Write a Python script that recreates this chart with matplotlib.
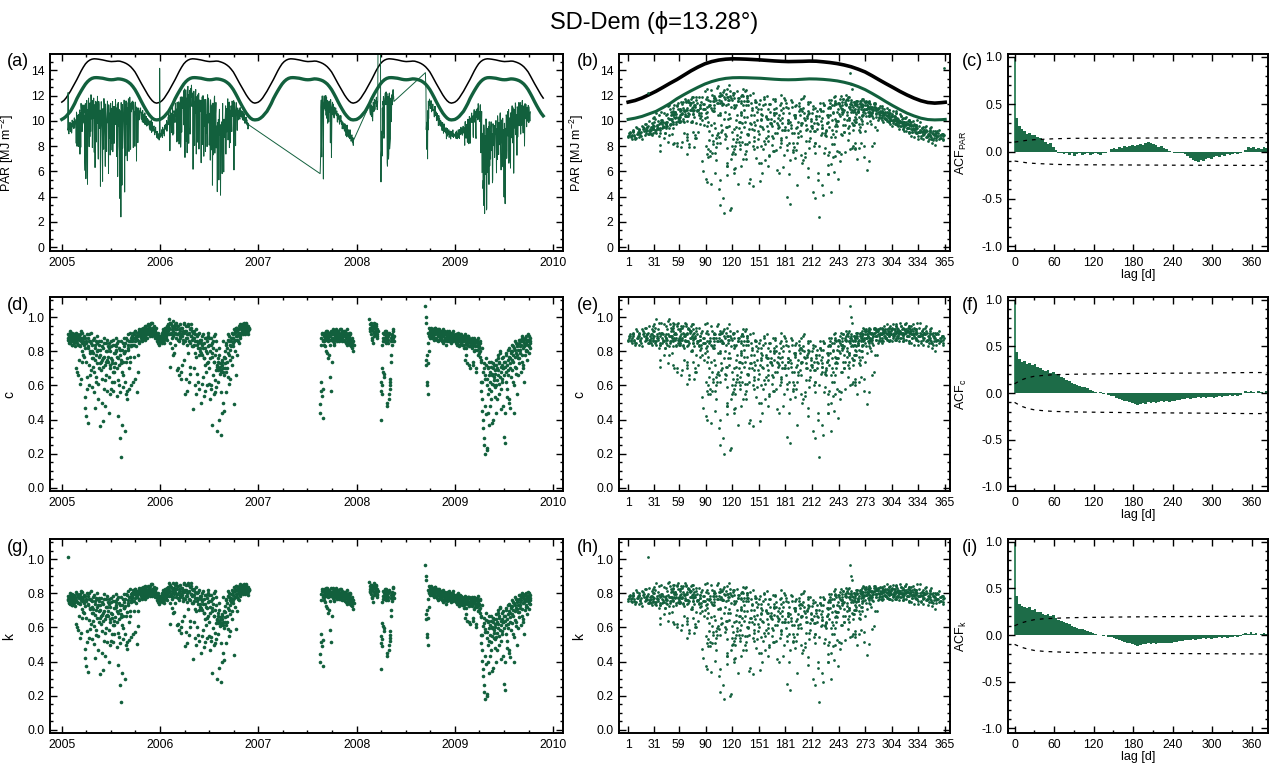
import numpy as np
import matplotlib
matplotlib.use('Agg')
import matplotlib.pyplot as plt
from matplotlib.ticker import MultipleLocator, FixedLocator, FormatStrFormatter

plt.rcParams['font.family'] = ['Liberation Sans', 'DejaVu Sans']
plt.rcParams['mathtext.fontset'] = 'custom'
plt.rcParams['mathtext.rm'] = 'Liberation Sans'
plt.rcParams['mathtext.it'] = 'Liberation Sans:italic'

GREEN = '#12603d'
BAR_GREEN = '#1d6c48'

# clear-sky curves, sampled every 8 days of the year
CURVE_DOY = [1, 9, 17, 25, 33, 41, 49, 57, 65, 73, 81, 89, 97, 105, 113, 121,
             129, 137, 145, 153, 161, 169, 177, 185, 193, 201, 209, 217, 225,
             233, 241, 249, 257, 265, 273, 281, 289, 297, 305, 313, 321, 329,
             337, 345, 353, 361, 365]
PAR_TOA = [11.49, 11.62, 11.82, 12.08, 12.35, 12.66, 12.98, 13.28, 13.62, 13.96,
           14.26, 14.52, 14.70, 14.82, 14.89, 14.92, 14.91, 14.89, 14.86, 14.83,
           14.79, 14.75, 14.72, 14.70, 14.71, 14.72, 14.74, 14.73, 14.68, 14.62,
           14.54, 14.43, 14.29, 14.10, 13.88, 13.58, 13.26, 12.95, 12.65, 12.34,
           12.06, 11.81, 11.60, 11.46, 11.41, 11.45, 11.48]
PAR_CLEAR = [10.12, 10.22, 10.36, 10.56, 10.76, 11.06, 11.38, 11.76, 12.08, 12.38,
             12.66, 12.92, 13.12, 13.27, 13.37, 13.42, 13.43, 13.42, 13.40, 13.38,
             13.34, 13.30, 13.27, 13.26, 13.27, 13.30, 13.33, 13.32, 13.29, 13.24,
             13.17, 13.06, 12.92, 12.72, 12.48, 12.18, 11.86, 11.52, 11.20, 10.90,
             10.62, 10.40, 10.22, 10.11, 10.08, 10.10, 10.12]

# clearness c [%]; each list holds every second day from its first day of year,
# the *_B lists the days in between
C_2005 = [88, 116, 86, 90, 87, 85, 89, 91, 84, 88, 86, 90, 87, 83, 89,
          87, 70, 90, 85, 88, 66, 84, 89, 61, 86, 92, 80, 74, 88, 85,
          84, 77, 53, 88, 42, 86, 65, 38, 82, 90, 60, 79, 86, 69, 85,
          80, 59, 87, 76, 68, 84, 47, 78, 62, 85, 73, 81, 52, 86, 70,
          78, 36, 74, 83, 64, 39, 76, 58, 85, 72, 48, 80, 66, 75, 87,
          74, 44, 82, 70, 55, 86, 76, 62, 73, 57, 84, 71, 68, 79, 88,
          83, 54, 77, 42, 86, 72, 60, 29, 81, 18, 75, 37, 85, 66, 79,
          88, 33, 80, 55, 74, 87, 52, 82, 90, 58, 77, 86, 60, 84, 89,
          86, 91, 62, 88, 84, 64, 92, 89, 56, 87, 90, 78, 93, 85, 91,
          90, 92, 88, 93, 86, 91, 94, 89, 87, 92, 90, 95, 88, 93, 91,
          92, 94, 90, 96, 91, 93, 89, 97, 92, 90, 94, 91, 88, 93, 90,
          89, 86, 91, 85, 88, 84, 140]
C_2005_B = [90, 87, 85, 89, 92, 86, 88, 84, 91, 87, 89, 85, 90, 86, 88,
            86, 91, 68, 84, 89, 87, 75, 90, 83, 64, 88, 85, 91, 78, 86,
            89, 82, 47, 85, 74, 90, 58, 83, 88, 72, 86, 66, 80, 91, 76,
            84, 71, 79, 88, 56, 82, 75, 86, 65, 80, 89, 61, 77, 84, 73,
            81, 69, 86, 75, 50, 82, 71, 88, 77, 63, 85, 74, 57, 80, 83,
            77, 85, 65, 80, 72, 58, 83, 75, 87, 68, 79, 62, 84, 73, 81,
            80, 70, 85, 63, 76, 82, 56, 78, 73, 86, 68, 81, 59, 74, 83,
            79, 85, 62, 88, 76, 57, 84, 81, 70, 86, 91, 74, 88, 83, 87,
            89, 84, 90, 77, 86, 92, 88, 83, 91, 87, 68, 89, 92, 86, 90,
            93, 89, 91, 87, 94, 90, 88, 92, 95, 89, 91, 93, 90, 96, 92,
            95, 91, 93, 89, 92, 97, 94, 90, 93, 91, 95, 89, 92, 94, 91,
            88, 90, 87, 86, 89, 85]
C_2006 = [86, 89, 88, 90, 85, 92, 89, 87, 93, 91, 94, 88, 95, 90, 92,
          96, 99, 93, 71, 97, 90, 82, 95, 98, 89, 79, 94, 91, 96, 88,
          93, 69, 90, 95, 86, 66, 92, 88, 64, 94, 72, 89, 91, 85, 96,
          97, 55, 88, 92, 84, 57, 95, 90, 62, 86, 93, 71, 89, 96, 83,
          91, 46, 84, 88, 60, 79, 93, 55, 86, 67, 90, 82, 58, 87, 80,
          85, 50, 78, 89, 65, 82, 54, 76, 88, 57, 80, 73, 60, 91, 83,
          88, 61, 76, 52, 84, 60, 79, 37, 86, 55, 74, 90, 63, 81, 59,
          72, 33, 69, 76, 40, 82, 71, 31, 68, 74, 44, 86, 70, 45, 66,
          73, 80, 56, 84, 70, 87, 65, 78, 89, 75, 64, 83, 86, 72, 88,
          90, 85, 49, 92, 87, 66, 94, 89, 78, 93, 86, 91, 95, 88, 90,
          94, 92, 96, 90, 95, 93, 97, 91, 94, 96, 92, 95, 93, 90, 94,
          93]
C_2006_B = [89, 87, 91, 86, 93, 88, 90, 85, 92, 94, 89, 91, 87, 93, 95,
            94, 90, 97, 85, 91, 96, 88, 93, 78, 92, 95, 90, 84, 97, 93,
            90, 95, 87, 70, 93, 91, 89, 96, 68, 90, 94, 87, 92, 75, 91,
            92, 86, 95, 64, 90, 88, 96, 79, 91, 85, 67, 94, 89, 92, 87,
            88, 83, 92, 70, 86, 90, 77, 84, 89, 62, 85, 91, 78, 86, 82,
            87, 79, 84, 61, 90, 76, 85, 72, 82, 88, 68, 79, 86, 74, 89,
            84, 70, 80, 88, 58, 77, 85, 66, 82, 74, 89, 56, 78, 86, 69,
            71, 74, 62, 70, 78, 67, 73, 56, 69, 75, 72, 50, 68, 77, 70,
            76, 85, 68, 82, 74, 90, 79, 86, 61, 84, 81, 88, 77, 91, 83,
            88, 93, 86, 91, 80, 89, 94, 87, 92, 90, 85, 93, 89, 96, 91,
            95, 93, 91, 96, 94, 92, 95, 90, 93, 97, 94, 91, 95, 92, 93]
C_2007 = [44, 57, 88, 54, 91, 86, 41, 89, 84, 90, 87, 80, 92, 88, 76,
          89, 78, 91, 87, 65, 90, 57, 88, 92, 86, 90, 84, 91, 89, 93,
          88, 91, 86, 92, 90, 89, 87, 93, 90, 88, 92, 86, 91, 89, 90,
          87, 92, 89, 85, 90, 93, 88, 86, 91, 89, 84, 90, 87, 85, 88,
          82, 86, 84]
C_2007_B = [49, 84, 62, 90, 87, 58, 86, 91, 88, 83, 92, 89, 79, 90, 86,
            88, 91, 84, 89, 92, 87, 74, 90, 88, 93, 85, 91, 87, 92, 89,
            90, 87, 92, 88, 91, 86, 90, 89, 93, 87, 91, 88, 90, 86, 92,
            89, 86, 91, 88, 84, 90, 87, 89, 85, 88, 91, 86, 83, 87, 85,
            84, 80]
C_2008A = [99, 94, 92, 96, 88, 93, 85, 95, 91, 97, 90, 94, 92, 96, 93, 89, 130]
C_2008A_B = [96, 93, 97, 90, 95, 87, 92, 94, 89, 96, 91, 93, 95, 90, 88, 92]
C_2008B = [127, 40, 60, 55, 68, 86, 90, 67, 88, 92, 85, 89, 91, 48, 87,
           52, 90, 58, 62, 86, 74, 89, 84, 92, 88, 86]
C_2008B_B = [62, 57, 70, 84, 88, 91, 65, 86, 90, 87, 92, 88, 50, 85, 89,
             55, 91, 60, 64, 88, 78, 90, 86, 93, 89]
C_2008C = [107, 97, 75, 62, 55, 73, 80, 90, 93, 88, 92, 94, 91, 89, 93,
           92, 90, 94, 88, 91, 93, 87, 92, 90, 86, 93, 91, 89, 92, 88,
           91, 87, 93, 89, 86, 92, 90, 88, 91, 84, 89, 92, 87, 90, 86,
           89, 91, 85, 88, 90, 87, 92, 86, 89, 88]
C_2008C_B = [100, 72, 60, 78, 85, 91, 89, 94, 92, 90, 93, 88,
             91, 93, 89, 92, 87, 90, 94, 91, 88, 92, 89, 93, 90, 87, 91,
             88, 92, 90, 86, 91, 89, 85, 92, 88, 90, 87, 91, 89, 86, 90,
             88, 92, 87, 90, 86, 89, 91, 87, 90, 88, 89, 87]
C_2009 = [87, 90, 85, 89, 84, 88, 91, 86, 83, 89, 87, 90, 85, 88, 86,
          89, 84, 87, 75, 90, 86, 82, 88, 73, 85, 89, 83, 87, 70, 86,
          84, 88, 82, 86, 72, 85, 80, 87, 83, 68, 86, 81, 84, 88, 79,
          83, 77, 86, 57, 75, 45, 62, 35, 25, 70, 20, 66, 43, 72, 23,
          64, 44, 71, 37, 58, 68, 52, 74, 61, 66, 40, 70, 63, 72, 59,
          67, 75, 44, 63, 78, 69, 55, 73, 65, 80, 58, 71, 76, 62, 48,
          70, 30, 74, 26, 68, 79, 53, 72, 81, 66, 50, 77, 73, 47, 80,
          75, 84, 62, 78, 44, 82, 71, 86, 67, 79, 55, 83, 76, 85, 73,
          81, 87, 68, 84, 78, 89, 72, 86, 83, 62, 88, 80, 85, 75, 87,
          84, 90, 79, 86, 82, 88]
C_2009_B = [88, 86, 90, 87, 85, 89, 84, 88, 90, 86, 87, 85, 89, 84, 88,
            86, 88, 82, 89, 85, 78, 87, 84, 89, 86, 72, 88, 83, 87, 85,
            87, 83, 86, 74, 84, 88, 81, 85, 70, 86, 83, 87, 78, 85, 82,
            80, 85, 74, 62, 82, 52, 68, 40, 73, 29, 64, 48, 76, 22, 60,
            70, 55, 66, 74, 48, 62, 71, 57, 67, 38, 73, 60, 65, 53, 69,
            72, 60, 70, 52, 76, 66, 74, 61, 79, 68, 46, 72, 64, 77, 70,
            66, 74, 44, 71, 62, 78, 58, 75, 69, 82, 52, 76, 70, 79, 65,
            80, 69, 83, 74, 60, 81, 77, 85, 70, 78, 84, 66, 81, 87, 76,
            83, 79, 86, 74, 88, 82, 70, 85, 87, 78, 84, 89, 81, 86, 80,
            87, 83, 89, 85, 86]
SEGMENTS = [(2005, 22, C_2005), (2005, 23, C_2005_B),
            (2006, 1, C_2006), (2006, 2, C_2006_B),
            (2007, 230, C_2007), (2007, 231, C_2007_B),
            (2008, 48, C_2008A), (2008, 49, C_2008A_B),
            (2008, 89, C_2008B), (2008, 90, C_2008B_B),
            (2008, 256, C_2008C), (2008, 257, C_2008C_B),
            (2009, 1, C_2009), (2009, 2, C_2009_B)]

# autocorrelation: lag 0 is 1, then one value per 4-day block starting at lag 1
ACF_PAR = [0.35, 0.27, 0.24, 0.22, 0.19, 0.20, 0.17, 0.18, 0.15, 0.14, 0.12, 0.10,
           0.08, 0.09, 0.05, 0.02, -0.01, -0.02, -0.03, -0.02, -0.04, -0.02, -0.05,
           -0.03, -0.02, -0.04, -0.03, -0.02, -0.04, -0.03, -0.02, -0.03, -0.04,
           -0.02, -0.01, 0.00, 0.03, 0.04, 0.03, 0.05, 0.04, 0.06, 0.05, 0.06, 0.07,
           0.06, 0.07, 0.08, 0.07, 0.09, 0.10, 0.09, 0.08, 0.07, 0.05, 0.06, 0.04,
           0.03, 0.01, 0.00, -0.01, -0.02, -0.02, -0.01, -0.03, -0.05, -0.07, -0.09,
           -0.10, -0.11, -0.09, -0.10, -0.08, -0.07, -0.08, -0.06, -0.05, -0.06,
           -0.04, -0.05, -0.03, -0.04, -0.03, -0.02, -0.03, -0.02, 0.00, 0.02, 0.05,
           0.04, 0.05, 0.03, 0.04, 0.03, 0.05, 0.04]
ACF_C = [0.44, 0.36, 0.33, 0.34, 0.31, 0.32, 0.30, 0.31, 0.28, 0.27, 0.25, 0.24,
         0.25, 0.22, 0.23, 0.20, 0.19, 0.17, 0.16, 0.14, 0.13, 0.11, 0.10, 0.09,
         0.08, 0.07, 0.06, 0.05, 0.03, 0.02, 0.01, 0.00, 0.01, -0.01, 0.00, -0.02,
         -0.03, -0.03, -0.05, -0.06, -0.07, -0.08, -0.09, -0.10, -0.11, -0.12,
         -0.13, -0.12, -0.11, -0.12, -0.10, -0.11, -0.10, -0.11, -0.10, -0.09,
         -0.10, -0.09, -0.10, -0.08, -0.08, -0.07, -0.07, -0.06, -0.06, -0.05,
         -0.06, -0.05, -0.05, -0.04, -0.05, -0.04, -0.05, -0.04, -0.04, -0.05,
         -0.04, -0.03, -0.04, -0.03, -0.03, -0.02, -0.03, -0.02, -0.03, -0.02,
         0.00, 0.02, 0.01, 0.02, 0.01, 0.00, 0.02, 0.01, 0.00, 0.02]
ACF_K = [0.42, 0.33, 0.31, 0.30, 0.29, 0.30, 0.27, 0.28, 0.25, 0.25, 0.23, 0.22,
         0.23, 0.20, 0.21, 0.18, 0.16, 0.15, 0.14, 0.13, 0.12, 0.10, 0.09, 0.08,
         0.07, 0.06, 0.05, 0.04, 0.03, 0.02, 0.01, 0.00, 0.00, -0.01, 0.00, -0.02,
         -0.02, -0.03, -0.04, -0.05, -0.06, -0.07, -0.08, -0.09, -0.10, -0.11,
         -0.12, -0.11, -0.10, -0.10, -0.09, -0.10, -0.09, -0.10, -0.09, -0.08,
         -0.09, -0.08, -0.09, -0.08, -0.07, -0.07, -0.06, -0.06, -0.05, -0.05,
         -0.05, -0.04, -0.05, -0.04, -0.04, -0.03, -0.04, -0.03, -0.04, -0.03,
         -0.03, -0.02, -0.03, -0.02, -0.03, -0.02, -0.02, -0.01, -0.02, -0.01,
         0.01, 0.02, 0.01, 0.03, 0.01, 0.02, 0.00, 0.01, 0.02, 0.01]
# 95% confidence limits
BAND_LAG = [0, 10, 20, 30, 45, 60, 90, 120, 180, 240, 300, 360, 384]
BAND_PAR = [0.10, 0.11, 0.12, 0.125, 0.13, 0.135, 0.14, 0.14, 0.142, 0.144, 0.145, 0.146, 0.146]
BAND_C = [0.10, 0.14, 0.165, 0.18, 0.19, 0.197, 0.202, 0.205, 0.21, 0.213, 0.216, 0.22, 0.22]
BAND_K = [0.10, 0.13, 0.15, 0.165, 0.175, 0.18, 0.187, 0.19, 0.195, 0.198, 0.2, 0.202, 0.203]

MONTH_TICKS = [1, 31, 59, 90, 120, 151, 181, 212, 243, 273, 304, 334, 365]

# ---- derived daily series
years, doys, cvals = [], [], []
for yr, d0, vals in SEGMENTS:
    years.append(np.full(len(vals), yr))
    doys.append(d0 + 2 * np.arange(len(vals)))
    cvals.append(np.array(vals) / 100.0)
years = np.concatenate(years)
doys = np.concatenate(doys)
c = np.concatenate(cvals)
t = years + (doys - 0.5) / 365.0
order = np.argsort(t)
t, doys, c = t[order], doys[order], c[order]

knot = np.abs(np.array(CURVE_DOY)[None, :] - doys[:, None]).argmin(axis=1)
par = c * np.array(PAR_CLEAR)[knot]
k = par / np.array(PAR_TOA)[knot]

W, H = 1277, 770
fig = plt.figure(figsize=(W / 100, H / 100), dpi=100)


def px_axes(x0, x1, y0, y1):
    return fig.add_axes([x0 / W, 1 - y1 / H, (x1 - x0) / W, (y1 - y0) / H])


def style(ax):
    for s in ax.spines.values():
        s.set_linewidth(1.4)
    ax.tick_params(which='both', direction='in', top=True, right=True,
                   width=1.0, labelsize=8.8, pad=4)
    ax.tick_params(which='major', length=5)
    ax.tick_params(which='minor', length=2.5)


ROWS = [(54, 251), (297, 491), (539, 733)]
COLS = [(50, 563), (619, 950), (1008, 1268)]
LABELS = [['(a)', '(b)', '(c)'], ['(d)', '(e)', '(f)'], ['(g)', '(h)', '(i)']]
LABEL_X = [7, 577, 962]

axes = [[px_axes(cx0, cx1, ry0, ry1) for (cx0, cx1) in COLS] for (ry0, ry1) in ROWS]

# ---- time series column
yrs_curve = []
for yr in range(2005, 2010):
    yrs_curve.append(yr + (np.array(CURVE_DOY) - 1) / 365.0)
tc = np.concatenate(yrs_curve)
keep = tc <= 2009.91
toa_t = np.tile(PAR_TOA, 5)[keep]
clear_t = np.tile(PAR_CLEAR, 5)[keep]
tc = tc[keep]

ax = axes[0][0]
ax.plot(tc, toa_t, color='black', lw=1.1)
ax.plot(tc, clear_t, color=GREEN, lw=2.4)
ax.plot(t, par, color=GREEN, lw=0.7)
ax.set_ylim(-0.3, 15.3)
ax.yaxis.set_major_locator(MultipleLocator(2))
ax.yaxis.set_minor_locator(MultipleLocator(2 / 3))
ax.set_ylabel('PAR [MJ m$^{-2}$]', fontsize=9)

axes[1][0].plot(t, c, 'o', color=GREEN, ms=2.6, mew=0)
axes[2][0].plot(t, k, 'o', color=GREEN, ms=2.6, mew=0)
axes[1][0].set_ylabel('c', fontsize=10)
axes[2][0].set_ylabel('k', fontsize=10)

for r in range(3):
    ax = axes[r][0]
    ax.set_xlim(2004.88, 2010.1)
    ax.xaxis.set_major_locator(FixedLocator([2005, 2006, 2007, 2008, 2009, 2010]))
    ax.xaxis.set_minor_locator(MultipleLocator(0.25))
    ax.xaxis.set_major_formatter(FormatStrFormatter('%d'))
    ax.yaxis.set_label_coords(-0.066, 0.5)

# ---- day-of-year column
ax = axes[0][1]
ax.plot(CURVE_DOY, PAR_TOA, color='black', lw=2.6)
ax.plot(CURVE_DOY, PAR_CLEAR, color=GREEN, lw=2.2)
ax.plot(doys, par, 'o', color=GREEN, ms=2.0, mew=0)
ax.set_ylim(-0.3, 15.3)
ax.yaxis.set_major_locator(MultipleLocator(2))
ax.yaxis.set_minor_locator(MultipleLocator(2 / 3))
ax.set_ylabel('PAR [MJ m$^{-2}$]', fontsize=9)

axes[1][1].plot(doys, c, 'o', color=GREEN, ms=2.0, mew=0)
axes[2][1].plot(doys, k, 'o', color=GREEN, ms=2.0, mew=0)
axes[1][1].set_ylabel('c', fontsize=10)
axes[2][1].set_ylabel('k', fontsize=10)

for r in range(3):
    ax = axes[r][1]
    ax.set_xlim(-9.5, 370.5)
    ax.xaxis.set_major_locator(FixedLocator(MONTH_TICKS))
    ax.yaxis.set_label_coords(-0.1, 0.5)

for r in (1, 2):
    for col in (0, 1):
        ax = axes[r][col]
        ax.set_ylim(-0.02, 1.12)
        ax.yaxis.set_major_locator(FixedLocator([0, 0.2, 0.4, 0.6, 0.8, 1.0]))
        ax.yaxis.set_minor_locator(MultipleLocator(0.05))
        ax.yaxis.set_major_formatter(FormatStrFormatter('%.1f'))

# ---- autocorrelation column
acf_sets = [(ACF_PAR, BAND_PAR, r'ACF$_{\rm PAR}$'),
            (ACF_C, BAND_C, r'ACF$_{\rm c}$'),
            (ACF_K, BAND_K, r'ACF$_{\rm k}$')]
for r, (vals, band, lab) in enumerate(acf_sets):
    ax = axes[r][2]
    lags = 1 + 4 * np.arange(len(vals))
    ax.bar([-0.8], [1.0], width=2.4, align='edge', color='#3f8a66', lw=0)
    ax.bar(lags, vals, width=4, align='edge', color=BAR_GREEN, lw=0)
    ax.plot(BAND_LAG, band, color='black', lw=0.9, ls=(0, (3, 4)))
    ax.plot(BAND_LAG, -np.array(band), color='black', lw=0.9, ls=(0, (3, 4)))
    ax.set_xlim(-10, 385)
    ax.set_ylim(-1.05, 1.03)
    ax.xaxis.set_major_locator(FixedLocator([0, 60, 120, 180, 240, 300, 360]))
    ax.xaxis.set_minor_locator(MultipleLocator(30))
    ax.yaxis.set_major_locator(FixedLocator([-1.0, -0.5, 0.0, 0.5, 1.0]))
    ax.yaxis.set_minor_locator(MultipleLocator(0.1))
    ax.yaxis.set_major_formatter(FormatStrFormatter('%.1f'))
    ax.set_xlabel('lag [d]', fontsize=9, labelpad=0)
    ax.set_ylabel(lab, fontsize=9)
    ax.yaxis.set_label_coords(-0.15, 0.5)

for r in range(3):
    for col in range(3):
        style(axes[r][col])
        fig.text(LABEL_X[col] / W, 1 - (ROWS[r][0] + 8) / H, LABELS[r][col],
                 fontsize=13, ha='left', va='center')

fig.text(654 / W, 1 - 23 / H, 'SD-Dem (\u03d5=13.28\u00b0)', fontsize=17,
         ha='center', va='center')

fig.savefig('out.png', dpi=100)
